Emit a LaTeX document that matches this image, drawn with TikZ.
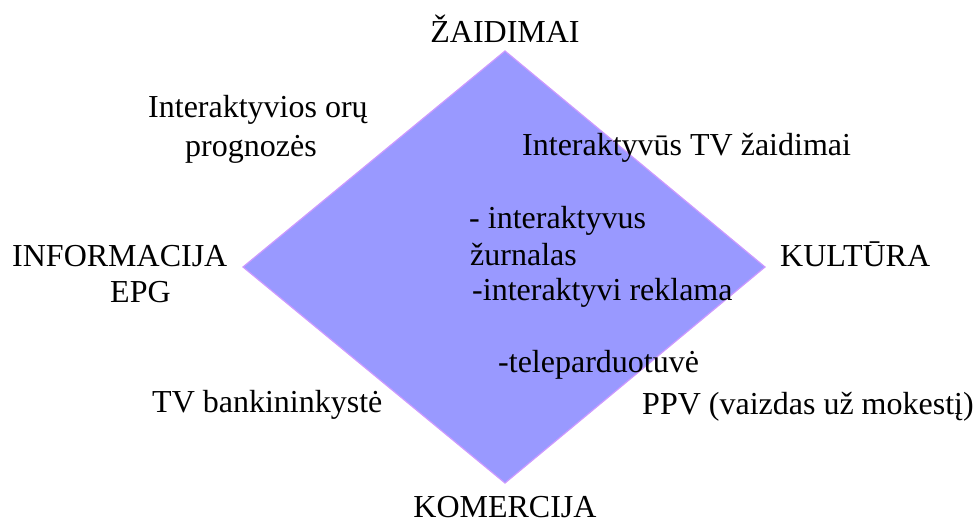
\documentclass[tikz,border=0pt]{standalone}
\usepackage{fontspec}
\setmainfont{Liberation Serif}
\definecolor{dfill}{HTML}{9999FF}
\definecolor{dline}{HTML}{CC99FF}
\begin{document}
\begin{tikzpicture}[x=1pt,y=-1pt,
  lbl/.style={anchor=base west,inner sep=0pt,font=\fontsize{32}{37}\selectfont},
  clbl/.style={anchor=base,inner sep=0pt,font=\fontsize{32}{37}\selectfont}]
\useasboundingbox (0,0) rectangle (977,525);
\coordinate (T) at (505,51);
\coordinate (R) at (765,267);
\coordinate (B) at (505,483);
\coordinate (L) at (243,267);
\filldraw[fill=dfill,draw=dline,line width=1.2pt] (T) -- (R) -- (B) -- (L) -- cycle;
\node[clbl] (zai) at (505,42) {ŽAIDIMAI};
\node[clbl] (kom) at (505,517) {KOMERCIJA};
\node[lbl] (inf) at (12,266) {INFORMACIJA};
\node[lbl] (epg) at (110,302) {EPG};
\node[lbl] (kul) at (780,266) {KULTŪRA};
\node[lbl] (oru1) at (148,117) {Interaktyvios orų};
\node[lbl] (oru2) at (185,156) {prognozės};
\node[lbl] (tvz) at (522,155) {Interaktyvūs TV žaidimai};
\node[lbl] (c1) at (469,228) {- interaktyvus};
\node[lbl] (c2) at (470,265) {žurnalas};
\node[lbl] (c3) at (472,300) {-interaktyvi reklama};
\node[lbl] (tel) at (498,372) {-teleparduotuvė};
\node[lbl] (bank) at (152,412) {TV bankininkystė};
\node[lbl] (ppv) at (642,414) {PPV (vaizdas už mokestį)};
\end{tikzpicture}
\end{document}
